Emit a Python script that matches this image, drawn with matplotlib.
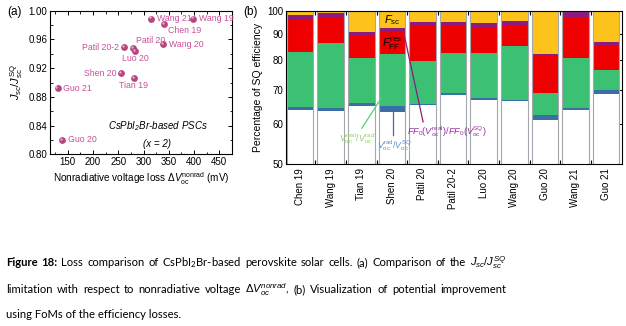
import matplotlib.pyplot as plt
import numpy as np
from matplotlib import transforms
from matplotlib.ticker import MultipleLocator, FixedLocator, NullLocator, FixedFormatter

plt.rcParams['font.family'] = ['Liberation Sans', 'DejaVu Sans']
plt.rcParams['mathtext.fontset'] = 'custom'
plt.rcParams['mathtext.rm'] = 'Liberation Sans'
plt.rcParams['mathtext.it'] = 'Liberation Sans:italic'
plt.rcParams['mathtext.bf'] = 'Liberation Sans:bold'

# (a) Jsc/Jsc_SQ against nonradiative Voc loss
names_a = ["Wang 21", "Wang 19", "Chen 19", "Patil 20", "Patil 20-2", "Luo 20",
           "Wang 20", "Shen 20", "Tian 19", "Guo 21", "Guo 20"]
dv_nonrad = [315, 398, 340, 279, 262, 283, 339, 256, 281, 130, 139]   # mV
jsc_ratio = [0.989, 0.989, 0.981, 0.948, 0.949, 0.944, 0.953, 0.913, 0.906, 0.892, 0.820]

# (b) efficiency (% of SQ) left after each loss, bottom to top
names_b = ["Chen 19", "Wang 19", "Tian 19", "Shen 20", "Patil 20", "Patil 20-2",
           "Luo 20", "Wang 20", "Guo 20", "Wang 21", "Guo 21"]
eta_pce = [63.8, 63.5, 65.1, 63.3, 65.3, 68.3, 66.8, 66.4, 61.0, 63.7, 68.5]
eta_rad = [64.8, 64.3, 66.0, 65.0, 65.5, 68.8, 67.5, 66.8, 62.4, 64.5, 69.9]
eta_real = [83.1, 86.3, 80.6, 82.2, 79.7, 82.7, 82.5, 85.2, 68.8, 80.9, 76.5]
eta_ffres = [96.2, 96.6, 89.2, 90.7, 93.7, 93.7, 93.0, 93.4, 81.5, 97.3, 85.6]
eta_ff0 = [98.1, 99.0, 90.7, 92.3, 95.1, 95.1, 94.5, 95.4, 82.1, 99.3, 86.7]
eta_sq = [100.0] * len(names_b)

W, H = 626, 326
fig = plt.figure(figsize=(W / 100, H / 100), dpi=100)

# ---------------- panel (a) ----------------
axa = fig.add_axes([50 / W, 1 - 154.3 / H, 182 / W, 143.6 / H])
pt_col = '#b5457f'
lab_col = '#c9509a'
axa.scatter(dv_nonrad, jsc_ratio, s=24, color=pt_col, zorder=3, linewidths=0)
hl = transforms.offset_copy(axa.transData, fig=fig, x=-0.8, y=0.8, units='points')
axa.scatter(dv_nonrad, jsc_ratio, s=3, color='#eaa8cc', zorder=4, linewidths=0, transform=hl)

# label placement: (dx, dy) in points, horizontal alignment
lab_pos = {"Wang 21": (4, 0, 'left'), "Wang 19": (4, 0, 'left'), "Chen 19": (3, -4.5, 'left'),
           "Patil 20": (2.5, 5.5, 'left'), "Patil 20-2": (-3.6, 0, 'right'),
           "Luo 20": (0, -5.5, 'center'), "Wang 20": (4, 0, 'left'),
           "Shen 20": (-3.4, 0, 'right'), "Tian 19": (0, -5.2, 'center'),
           "Guo 21": (4, 0, 'left'), "Guo 20": (4, 0, 'left')}
for nm, xv, yv in zip(names_a, dv_nonrad, jsc_ratio):
    dx, dy, ha = lab_pos[nm]
    axa.annotate(nm, (xv, yv), xytext=(dx, dy), textcoords='offset points',
                 ha=ha, va='center', fontsize=6.3, color=lab_col)

axa.set_xlim(115, 475)
axa.set_ylim(0.80, 1.00)
axa.xaxis.set_major_locator(MultipleLocator(50))
axa.xaxis.set_minor_locator(MultipleLocator(25))
axa.yaxis.set_major_locator(MultipleLocator(0.04))
axa.yaxis.set_minor_locator(MultipleLocator(0.02))
axa.yaxis.set_major_formatter(lambda v, p: f"{v:.2f}")
axa.tick_params(which='both', direction='in', top=True, right=True, labelsize=7, pad=2)
axa.tick_params(which='major', length=3, width=0.7)
axa.tick_params(which='minor', length=1.8, width=0.6)
axa.set_xlabel(r"Nonradiative voltage loss $\mathit{\Delta V}_\mathrm{oc}^\mathrm{nonrad}$ (mV)",
               fontsize=7.2, labelpad=2)
axa.set_ylabel(r"$J_\mathrm{sc}/J_\mathrm{sc}^\mathrm{SQ}$", fontsize=8, labelpad=2)
axa.text(0.59, 0.197, r"CsPbI$_\mathdefault{2}$Br-based PSCs", transform=axa.transAxes,
         ha='center', va='center', fontsize=7, style='italic')
axa.text(0.59, 0.075, "(x = 2)", transform=axa.transAxes,
         ha='center', va='center', fontsize=7, style='italic')
for sp in axa.spines.values():
    sp.set_linewidth(0.8)

# ---------------- panel (b) ----------------
axb = fig.add_axes([286 / W, 1 - 164 / H, 336 / W, 153.3 / H])
axb.set_yscale('log')
x = np.arange(len(names_b))
bw = 0.87
tops = [eta_pce, eta_rad, eta_real, eta_ffres, eta_ff0, eta_sq]
cols = ['white', '#3a6ea5', '#3cc174', '#ee0000', '#8e1a80', '#fec31b']
low = np.full(len(x), 40.0)
for lv, c in zip(tops, cols):
    lv = np.array(lv)
    axb.bar(x, lv - low, bottom=low, width=bw, color=c, linewidth=0, zorder=2)
    low = lv
axb.bar(x, np.array(eta_sq) - 40, bottom=40, width=bw, facecolor='none',
        edgecolor='#a3a7ab', linewidth=0.8, zorder=3)

axb.set_xlim(-0.46, len(x) - 0.48)
axb.set_ylim(50, 100)
axb.yaxis.set_major_locator(FixedLocator([50, 60, 70, 80, 90, 100]))
axb.yaxis.set_major_formatter(FixedFormatter(["50", "60", "70", "80", "90", "100"]))
axb.yaxis.set_minor_locator(NullLocator())
axb.set_xticks(x)
axb.set_xticklabels(names_b, rotation=90, fontsize=7)
axb.set_xticks(x[:-1] + 0.5, minor=True)
axb.tick_params(axis='x', which='major', length=0, pad=3)
axb.tick_params(axis='x', which='minor', direction='in', length=3, width=0.8, top=True)
axb.tick_params(axis='y', direction='in', length=3, width=0.7, right=True, labelsize=7, pad=2)
axb.set_ylabel("Percentage of SQ efficiency", fontsize=7.5, labelpad=3)
for sp in axb.spines.values():
    sp.set_linewidth(0.8)
    sp.set_zorder(5)

axb.text(3.0, 95.9, r"$F_\mathrm{sc}$", ha='center', va='center', fontsize=8, zorder=6)
axb.text(3.0, 86.0, r"$F_\mathrm{FF}^\mathrm{res}$", ha='center', va='center', fontsize=8, zorder=6)
axb.plot([2.02, 2.65], [58.8, 67.3], color='#4fd07f', lw=0.9, zorder=6)
axb.text(1.86, 56.0, r"$V_\mathrm{oc}^\mathrm{real}/V_\mathrm{oc}^\mathrm{rad}$",
         ha='center', va='center', fontsize=6.3, color='#8fcf63', zorder=6)
axb.plot([3.04, 3.04], [63.4, 57.0], color='#3a6ea5', lw=0.9, zorder=6)
axb.text(3.08, 54.3, r"$V_\mathrm{oc}^\mathrm{rad}/V_\mathrm{oc}^\mathrm{SQ}$",
         ha='center', va='center', fontsize=6.3, color='#5a8fc6', zorder=6)
axb.plot([3.38, 4.02], [90.9, 60.5], color='#8e1a80', lw=0.9, zorder=6)
axb.text(4.78, 57.9, r"$FF_0(V_\mathrm{oc}^\mathrm{real})/FF_0(V_\mathrm{oc}^\mathrm{SQ})$",
         ha='center', va='center', fontsize=6.6, color='#9b2fa3', zorder=6)

fig.text(7 / W, 1 - 12 / H, "(a)", fontsize=8.5, va='center')
fig.text(243 / W, 1 - 12 / H, "(b)", fontsize=8.5, va='center')

# ---------------- caption ----------------
cap_font = ['Lato', 'DejaVu Sans']
cap_size = 8.1
rend = fig.canvas.get_renderer()


def caption_line(words, base_y, x0, x1=None):
    objs = []
    for w, bold in words:
        objs.append(fig.text(0, 1 - base_y / H, w, fontsize=cap_size, family=cap_font,
                             fontweight='bold' if bold else 'normal', va='baseline'))
    wid = [o.get_window_extent(rend).width for o in objs]
    gap = (x1 - x0 - sum(wid)) / (len(objs) - 1)
    xp = x0
    for o, wd in zip(objs, wid):
        o.set_x(xp / W)
        xp += wd + gap


line1 = [("Figure", True), ("18:", True), ("Loss", False), ("comparison", False), ("of", False),
         (r"CsPbI$_\mathdefault{2}$Br-based", False), ("perovskite", False), ("solar", False),
         ("cells.", False), ("(a)", False), ("Comparison", False), ("of", False), ("the", False),
         (r"$J_{sc}/J_{sc}^{SQ}$", False)]
line2 = [("limitation", False), ("with", False), ("respect", False), ("to", False),
         ("nonradiative", False), ("voltage", False), (r"$\Delta V_{oc}^{nonrad}$,", False),
         ("(b)", False), ("Visualization", False), ("of", False), ("potential", False),
         ("improvement", False)]
caption_line(line1, 265.8, 6, 506)
caption_line(line2, 293.2, 6, 506)
fig.text(6 / W, 1 - 318.3 / H, "using FoMs of the efficiency losses.", fontsize=cap_size,
         family=cap_font, va='baseline')

fig.savefig("out.png", dpi=100)
